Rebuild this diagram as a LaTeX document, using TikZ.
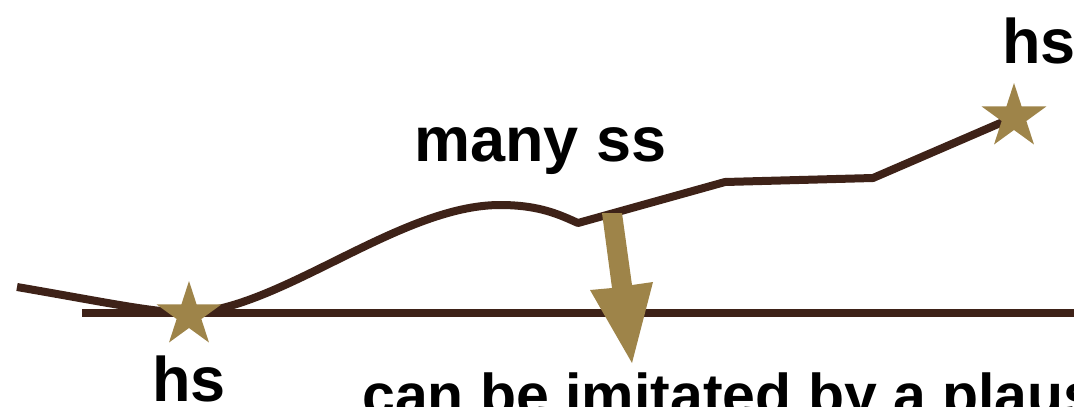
\documentclass[tikz,border=0pt]{standalone}
\usepackage{fontspec}
\setmainfont{Liberation Sans}
\usetikzlibrary{shapes.geometric}
\definecolor{pathbrown}{HTML}{3E2218}
\definecolor{stargold}{HTML}{9E8449}
\tikzset{
  hsstar/.style={star, star points=5, star point ratio=2.618, fill=stargold, draw=none, inner sep=0, minimum size=68pt},
  bigtxt/.style={font=\fontsize{63}{70}\selectfont\bfseries, inner sep=0, anchor=base west},
  brownline/.style={pathbrown, line width=8pt}
}
\begin{document}
\begin{tikzpicture}[x=1pt,y=-1pt]
\useasboundingbox (0,0) rectangle (1074,407);
\clip (0,0) rectangle (1074,407);
\coordinate (start) at (17,287);
\coordinate (axisL) at (82,313);
\coordinate (axisR) at (1080,313);
\coordinate (peak) at (500,205);
\coordinate (dip) at (578,223);
\coordinate (kinkA) at (725,182);
\coordinate (kinkB) at (873,178);
\draw[brownline] (axisL) -- (axisR);
\draw[brownline, line join=round] (start) .. controls (110,303) and (150,312) .. (189,313)
  .. controls (280,310) and (400,205) .. (peak)
  .. controls (540,205) and (560,215) .. (dip)
  -- (kinkA) -- (kinkB) -- (1012,118);
\fill[stargold] (602,213) -- (622,213) -- (632,285) -- (653,282) -- (632,363) -- (590,290) -- (612,288) -- cycle;
\foreach \p/\n in {{(189,315)}/hsA, {(1014,117)}/hsB} {
  \node[hsstar] (\n) at \p {};
}
\node[bigtxt] (hsAtxt) at (152,401) {hs};
\node[bigtxt] (hsBtxt) at (1002,63) {hs};
\node[bigtxt] (many) at (414,161) {many ss};
\node[bigtxt, font=\fontsize{59}{66}\selectfont\bfseries] (imit) at (362,415) {can be imitated by a plausible};
\end{tikzpicture}
\end{document}
